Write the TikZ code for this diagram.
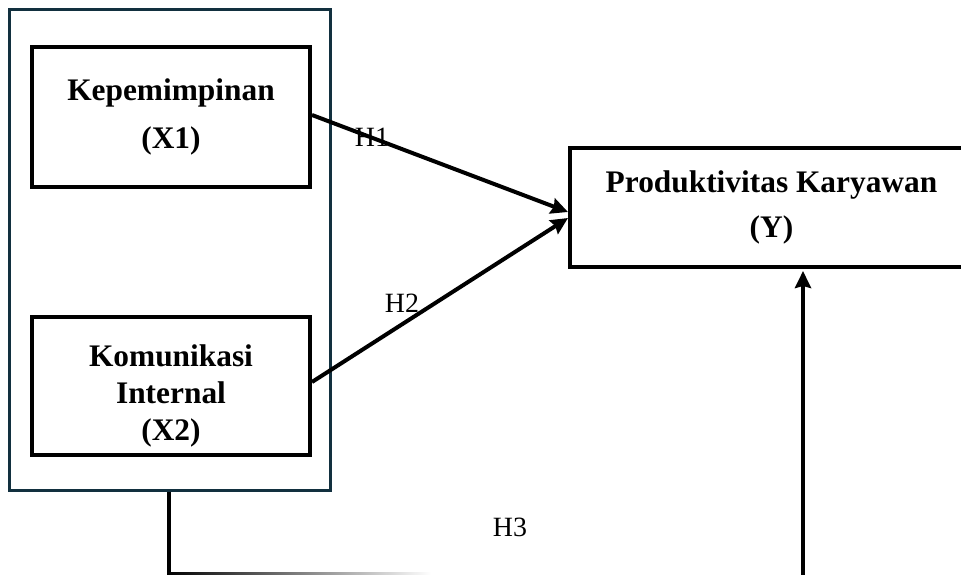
\documentclass[tikz,border=0pt]{standalone}
\usepackage{fontspec}
\setmainfont{Liberation Serif}
\usetikzlibrary{arrows.meta}
\definecolor{navy}{HTML}{12303F}
\begin{document}
\begin{tikzpicture}[x=1bp,y=-1bp,
  box/.style={draw=black,line width=4bp,rectangle,inner sep=0pt},
  boxtext/.style={align=center,inner sep=0pt},
  grp/.style={draw=navy,line width=3bp,rectangle,inner sep=0pt,minimum width=320bp,minimum height=480bp},
  conn/.style={line width=4bp,-{Stealth[length=17bp,width=16bp,inset=2bp]}},
  hyp/.style={font=\fontsize{28}{32}\selectfont,inner sep=0pt}]
\useasboundingbox (0,0) rectangle (961,575);
% group frame
\node[grp] (group) at (170,250) {};
% boxes
\node[box,minimum width=278bp,minimum height=140bp,boxtext,
  font=\fontsize{31.5}{48}\selectfont\bfseries] (x1) at (171,117) {Kepemimpinan\\(X1)};
\node[box,minimum width=278bp,minimum height=138bp] (x2) at (171,386) {};
\node[boxtext,font=\fontsize{31.5}{37}\selectfont\bfseries] (x2text) at (171,396) {Komunikasi\\Internal\\(X2)};
\node[box,minimum width=403bp,minimum height=119bp,boxtext,
  font=\fontsize{31.5}{45}\selectfont\bfseries] (y) at (771.5,207.5) {Produktivitas Karyawan\\(Y)};
% connectors
\draw[conn] ([yshift=2bp]x1.east) -- ([yshift=-4.5bp]y.west);
\draw[conn] ([yshift=4bp]x2.east) -- ([yshift=-10.5bp]y.west);
\coordinate (c1) at (169,574);
\coordinate (c2) at (803,575);
\draw[line width=4bp] (group.south -| c1) -- ([yshift=-1.5bp]c1);
\shade[left color=black,right color=white] ([xshift=-2bp,yshift=1.5bp]c1) rectangle ([xshift=262bp,yshift=-1.5bp]c1);
\draw[conn] (c2) -- ([yshift=-2bp]c2 |- y.south);
% labels
\node[hyp] (h1) at (372,137) {H1};
\node[hyp] (h2) at (402,303) {H2};
\node[hyp] (h3) at (510,527) {H3};
\end{tikzpicture}
\end{document}
